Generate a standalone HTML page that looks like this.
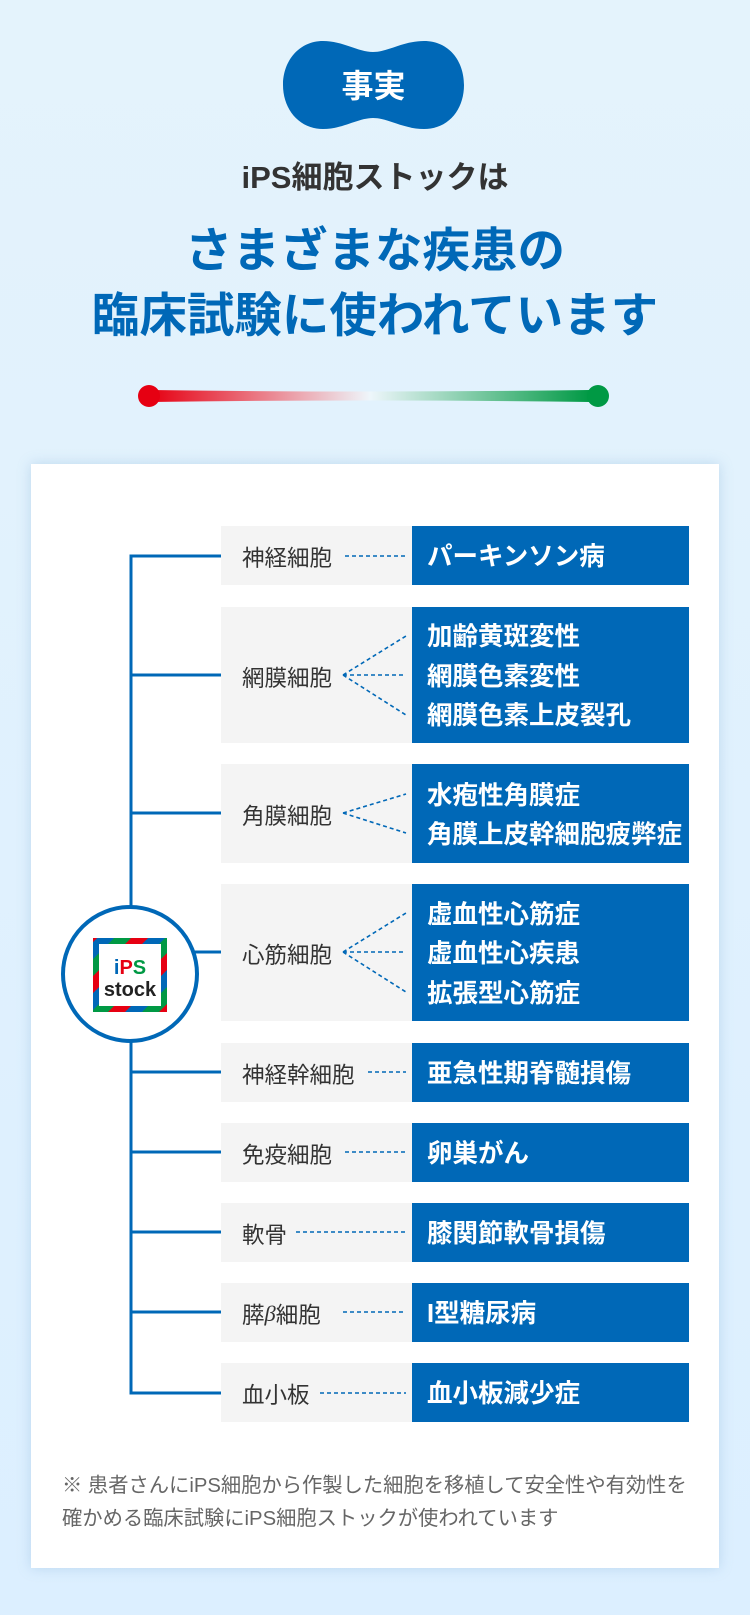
<!DOCTYPE html>
<html><head><meta charset="utf-8"><style>
*{margin:0;padding:0;box-sizing:border-box}
body{width:750px;height:1615px;overflow:hidden;background:linear-gradient(#e4f3fc,#dcefff);font-family:"Liberation Sans","Noto Sans CJK JP",sans-serif;position:relative}
.abs{position:absolute}
.card{left:31px;top:464px;width:688px;height:1104px;background:#fff;box-shadow:0 0 12px rgba(120,170,210,.35)}
.gray{position:absolute;left:221px;width:191px;background:#f4f4f4;color:#333;font-size:22.5px;display:flex;align-items:center;padding-left:21px;padding-top:3px}
.blue{position:absolute;left:412px;width:277px;background:#0068b7;color:#fff;font-size:25.5px;font-weight:bold;display:flex;flex-direction:column;justify-content:center;padding-left:15px;padding-top:5px;line-height:39.5px;white-space:nowrap}
.foot{left:62px;font-size:20.3px;color:#666;white-space:nowrap}
</style></head><body>
<div class="abs card"></div>
<svg class="abs" style="left:283px;top:41px" width="181" height="88"><path d="M40,0 C60,0 75,11 90,11 C105,11 120,0 141,0 C166,0 181,20 181,44 C181,68 166,88 141,88 C120,88 105,77 90,77 C75,77 60,88 40,88 C16,88 0,68 0,44 C0,20 16,0 40,0Z" fill="#0068b7"/></svg>
<div class="abs" style="left:283px;top:66px;width:181px;text-align:center;color:#fff;font-size:32px;font-weight:bold;line-height:40px">事実</div>
<div class="abs" style="left:0;top:158px;width:750px;text-align:center;color:#333;font-size:31px;font-weight:bold;line-height:40px">iPS細胞ストックは</div>
<div class="abs" style="left:0;top:219px;width:750px;text-align:center;color:#0068b7;font-size:47.5px;font-weight:bold;line-height:65px">さまざまな疾患の<br>臨床試験に使われています</div>
<svg class="abs" style="left:130px;top:382px" width="490" height="28"><defs><linearGradient id="g" x1="0" x2="1"><stop offset="0" stop-color="#e60012"/><stop offset=".5" stop-color="#eef6fb"/><stop offset="1" stop-color="#009944"/></linearGradient></defs>
<path d="M20,8 Q240,11 460,8 L460,20 Q240,17 20,20Z" fill="url(#g)"/>
<circle cx="19" cy="14" r="11" fill="#e60012"/><circle cx="468" cy="14" r="11" fill="#009944"/></svg>

<div class="gray" style="top:526px;height:59px">神経細胞</div><div class="blue" style="top:526px;height:59px">パーキンソン病</div>
<div class="gray" style="top:607px;height:136px">網膜細胞</div><div class="blue" style="top:607px;height:136px">加齢黄斑変性<br>網膜色素変性<br>網膜色素上皮裂孔</div>
<div class="gray" style="top:764px;height:99px">角膜細胞</div><div class="blue" style="top:764px;height:99px">水疱性角膜症<br>角膜上皮幹細胞疲弊症</div>
<div class="gray" style="top:884px;height:137px">心筋細胞</div><div class="blue" style="top:884px;height:137px">虚血性心筋症<br>虚血性心疾患<br>拡張型心筋症</div>
<div class="gray" style="top:1043px;height:59px">神経幹細胞</div><div class="blue" style="top:1043px;height:59px">亜急性期脊髄損傷</div>
<div class="gray" style="top:1123px;height:59px">免疫細胞</div><div class="blue" style="top:1123px;height:59px">卵巣がん</div>
<div class="gray" style="top:1203px;height:59px">軟骨</div><div class="blue" style="top:1203px;height:59px">膝関節軟骨損傷</div>
<div class="gray" style="top:1283px;height:59px">膵<i style="font-family:'Liberation Serif',serif">β</i>細胞</div><div class="blue" style="top:1283px;height:59px">I型糖尿病</div>
<div class="gray" style="top:1363px;height:59px">血小板</div><div class="blue" style="top:1363px;height:59px">血小板減少症</div>

<svg class="abs" style="left:0;top:0" width="750" height="1615">
<g stroke="#0068b7" stroke-width="3" fill="none">
<path d="M131,556 V1393"/>
<path d="M129.5,556 H221 M131,675 H221 M131,813 H221 M131,952 H221 M131,1072 H221 M131,1152 H221 M131,1232 H221 M131,1312 H221 M129.5,1393 H221"/>
</g>
<g stroke="#0068b7" stroke-width="1.6" stroke-dasharray="4,3" fill="none">
<path d="M345,556 H406"/>
<path d="M343,675 L406,636 M343,675 H406 M343,675 L406,715"/>
<path d="M343,813 L406,794 M343,813 L406,833"/>
<path d="M343,952 L406,913 M343,952 H406 M343,952 L406,992"/>
<path d="M368,1072 H406"/><path d="M345,1152 H406"/><path d="M296,1232 H406"/><path d="M343,1312 H406"/><path d="M320,1393 H406"/>
</g>
<circle cx="130" cy="974" r="67" fill="#fff" stroke="#0068b7" stroke-width="4"/>
<defs><pattern id="st" width="36" height="36" patternUnits="userSpaceOnUse" patternTransform="rotate(45)"><rect width="12" height="36" fill="#e60012"/><rect x="12" width="12" height="36" fill="#0068b7"/><rect x="24" width="12" height="36" fill="#009944"/></pattern></defs>
<rect x="93" y="938" width="74" height="74" fill="url(#st)"/>
<rect x="99" y="944" width="62" height="62" fill="#fff"/>
<text x="130" y="974" text-anchor="middle" font-size="20" font-weight="bold" font-family="Liberation Sans,sans-serif"><tspan fill="#0068b7">i</tspan><tspan fill="#e60012">P</tspan><tspan fill="#009944">S</tspan></text>
<text x="130" y="996" text-anchor="middle" font-size="20" font-weight="bold" fill="#222" font-family="Liberation Sans,sans-serif">stock</text>
</svg>

<div class="abs foot" style="top:1468px">※ 患者さんにiPS細胞から作製した細胞を移植して安全性や有効性を</div>
<div class="abs foot" style="top:1501px">確かめる臨床試験にiPS細胞ストックが使われています</div>
</body></html>
